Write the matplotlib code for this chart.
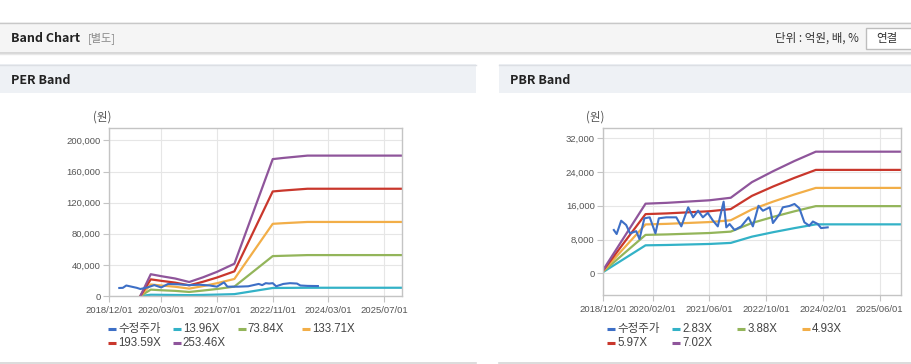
import matplotlib
matplotlib.use("Agg")
import matplotlib.pyplot as plt
import matplotlib.dates as mdates
from matplotlib.patches import Rectangle
from matplotlib.ticker import FuncFormatter
import pandas as pd

plt.rcParams['font.family'] = ['Liberation Sans', 'Noto Sans CJK KR', 'DejaVu Sans']

# ---- PER band data ----
per_price_dates = ["2019-03-01", "2019-04-01", "2019-05-01", "2019-06-01", "2019-07-01", "2019-08-01",
                   "2019-09-01", "2019-11-01", "2020-01-01", "2020-03-01", "2020-05-01", "2020-08-01",
                   "2020-11-01", "2021-02-01", "2021-05-01", "2021-07-01", "2021-09-01", "2021-10-01",
                   "2022-01-01", "2022-04-01", "2022-07-01", "2022-08-01", "2022-09-01", "2022-10-01",
                   "2022-11-01", "2022-12-01", "2023-02-01", "2023-04-01", "2023-06-01", "2023-07-01",
                   "2023-09-01", "2023-12-01"]
per_price = [10300, 10500, 13500, 12500, 11500, 10500, 9000, 11000, 14000, 11000, 15500, 15000,
             14000, 14500, 13500, 12000, 17500, 12000, 12000, 12500, 15500, 14000, 16500, 16000,
             16500, 12500, 15500, 16500, 16000, 13500, 13000, 12800]

per_band_dates = ["2019-09-01", "2019-12-01", "2020-03-01", "2020-07-01", "2020-11-01", "2021-03-01",
                  "2021-07-01", "2021-12-01", "2022-11-01", "2023-02-01", "2023-09-01", "2025-12-01"]
per_band_labels = ["13.96X", "73.84X", "133.71X", "193.59X", "253.46X"]
per_band_values = [
    [0, 1600, 1500, 1300, 1100, 1400, 1800, 2400, 10300, 10400, 10600, 10600],
    [0, 8200, 7400, 6600, 5200, 7000, 9000, 12100, 51300, 51700, 52600, 52600],
    [0, 14800, 13500, 11900, 9500, 12700, 16400, 21900, 92800, 93600, 95200, 95200],
    [0, 21400, 19500, 17200, 13700, 18300, 23700, 31700, 134400, 135600, 137900, 137900],
    [0, 28000, 25500, 22500, 18000, 24000, 31000, 41500, 176000, 177500, 180500, 180500],
]
per_ticks = ["2018-12-01", "2020-03-01", "2021-07-01", "2022-11-01", "2024-03-01", "2025-07-01"]

# ---- PBR band data ----
pbr_price_dates = ["2019-03-04", "2019-03-28", "2019-05-06", "2019-06-18", "2019-07-21", "2019-09-12",
                   "2019-10-10", "2019-11-21", "2020-01-06", "2020-02-24", "2020-03-24", "2020-05-27",
                   "2020-08-21", "2020-10-03", "2020-12-01", "2021-01-12", "2021-02-24", "2021-04-06",
                   "2021-05-18", "2021-07-01", "2021-08-12", "2021-10-01", "2021-10-24", "2021-11-21",
                   "2022-01-03", "2022-03-01", "2022-05-03", "2022-06-09", "2022-07-27", "2022-09-03",
                   "2022-11-01", "2022-11-28", "2023-01-25", "2023-02-21", "2023-04-18", "2023-06-01",
                   "2023-07-13", "2023-08-25", "2023-10-06", "2023-11-06", "2023-12-18", "2024-01-15",
                   "2024-03-12"]
pbr_price = [10270, 9320, 12470, 11450, 9480, 10000, 8130, 13040, 13270, 9480, 13040, 13270,
             13270, 11140, 15640, 13270, 14840, 13270, 14330, 12510, 11130, 16970, 10900, 11690,
             10270, 11130, 13270, 11130, 16000, 14830, 15640, 11920, 14070, 15640, 15950, 16430,
             15400, 12090, 11290, 12280, 11690, 10730, 10900]

pbr_band_dates = ["2018-12-01", "2019-12-01", "2020-06-01", "2021-06-01", "2021-12-01", "2022-06-01",
                  "2022-12-01", "2023-06-01", "2023-12-01", "2025-12-01"]
pbr_band_labels = ["2.83X", "3.88X", "4.93X", "5.97X", "7.02X"]
pbr_band_values = [
    [310, 6650, 6730, 6970, 7220, 8700, 9760, 10720, 11610, 11610],
    [430, 9120, 9230, 9560, 9890, 11930, 13380, 14700, 15920, 15920],
    [540, 11590, 11730, 12150, 12570, 15150, 17000, 18680, 20230, 20230],
    [660, 14030, 14200, 14710, 15220, 18350, 20580, 22610, 24490, 24490],
    [770, 16500, 16700, 17300, 17900, 21600, 24200, 26600, 28800, 28800],
]
pbr_ticks = ["2018-12-01", "2020-02-01", "2021-06-01", "2022-10-01", "2024-02-01", "2025-06-01"]

price_label = "수정주가"
price_color = "#3d6fc6"
band_colors = ["#33b2c7", "#93b55a", "#f2ae48", "#c9372c", "#8f559b"]

W, H = 912, 364
fig = plt.figure(figsize=(W / 100, H / 100), dpi=100)
fig.patch.set_facecolor("white")

# page decoration, in pixel coordinates
bg = fig.add_axes([0, 0, 1, 1])
bg.set_xlim(0, W)
bg.set_ylim(H, 0)
bg.axis("off")
bg.add_patch(Rectangle((0, 22), W, 30, facecolor="#f5f5f5", edgecolor="none"))
bg.plot([0, W], [22.5, 22.5], color="#c8c8c8", lw=1)
bg.plot([0, W], [52.5, 52.5], color="#d0d0d0", lw=1.2)
bg.plot([0, W], [53.5, 53.5], color="#e8e8e8", lw=1)
bg.text(11, 38, "Band Chart", fontsize=9, fontweight="bold", color="#222222",
        family=["Noto Sans CJK KR"], va="center")
bg.text(88, 38, "[별도]", fontsize=8, color="#888888", family=["Noto Sans CJK KR"], va="center")
bg.text(859, 38, "단위 : 억원, 배, %", fontsize=8.3, color="#333333",
        family=["Noto Sans CJK KR"], va="center", ha="right")
bg.add_patch(Rectangle((866, 28), 50, 21, facecolor="white", edgecolor="#bdbdbd", lw=1))
bg.text(887, 38.5, "연결", fontsize=8.3, color="#333333", family=["Noto Sans CJK KR"],
        va="center", ha="center")

for x0, x1, title in [(0, 476, "PER Band"), (499, W, "PBR Band")]:
    bg.add_patch(Rectangle((x0, 64), x1 - x0, 29, facecolor="#eef1f5", edgecolor="none"))
    bg.plot([x0, x1], [64.5, 64.5], color="#dcdfe4", lw=1)
    bg.plot([x0, x1], [362.5, 362.5], color="#d6d6d6", lw=1.2)
    bg.text(x0 + 11, 80, title, fontsize=9, fontweight="bold", color="#222222",
            family=["Noto Sans CJK KR"], va="center")


def draw_band(box, price_dates, price, band_dates, band_labels, band_values, ticks,
              xmax, ylim, yticks, unit_x, legend_x):
    left, top, right, bottom = box
    ax = fig.add_axes([left / W, 1 - bottom / H, (right - left) / W, (bottom - top) / H])
    bd = pd.to_datetime(band_dates)
    for lab, vals, col in zip(band_labels, band_values, band_colors):
        ax.plot(bd, vals, color=col, lw=1.6, label=lab, zorder=2)
    ax.plot(pd.to_datetime(price_dates), price, color=price_color, lw=1.5,
            label=price_label, zorder=3)

    ax.set_xlim(pd.Timestamp("2018-12-01"), pd.Timestamp(xmax))
    ax.set_ylim(*ylim)
    ax.set_xticks(pd.to_datetime(ticks))
    ax.xaxis.set_major_formatter(mdates.DateFormatter("%Y/%m/%d"))
    ax.set_yticks(yticks)
    ax.yaxis.set_major_formatter(FuncFormatter(lambda v, p: f"{int(v):,}"))
    ax.grid(True, color="#e6e6e6", lw=0.8)
    ax.set_axisbelow(True)
    for s in ax.spines.values():
        s.set_color("#c4c4c4")
        s.set_linewidth(1)
    ax.tick_params(axis="both", colors="#c4c4c4", labelcolor="#555555", labelsize=6.8,
                   length=4, width=0.8)
    ax.tick_params(axis="x", pad=3)
    ax.tick_params(axis="y", pad=2)

    bg.text(unit_x, 117, "(원)", fontsize=8.3, color="#555555",
            family=["Noto Sans CJK KR"], va="center")

    # legend: fixed-width items, 4 per row
    names = [price_label] + band_labels
    colors = [price_color] + band_colors
    for i, (name, col) in enumerate(zip(names, colors)):
        x = legend_x + (i % 4) * 64.8
        y = 329 + (i // 4) * 14
        bg.plot([x, x + 8], [y, y], color=col, lw=2.2, solid_capstyle="butt")
        bg.text(x + 10, y, name, fontsize=8.3, color="#444444", va="center")
    return ax


draw_band((109, 128, 402, 296), per_price_dates, per_price, per_band_dates, per_band_labels,
          per_band_values, per_ticks, "2025-12-05", (0, 216000),
          [0, 40000, 80000, 120000, 160000, 200000], 93, 108)

draw_band((603, 128, 901, 295), pbr_price_dates, pbr_price, pbr_band_dates, pbr_band_labels,
          pbr_band_values, pbr_ticks, "2025-12-01", (-5100, 34400),
          [0, 8000, 16000, 24000, 32000], 586, 607.5)

fig.savefig("out.png", dpi=100, facecolor="white")
